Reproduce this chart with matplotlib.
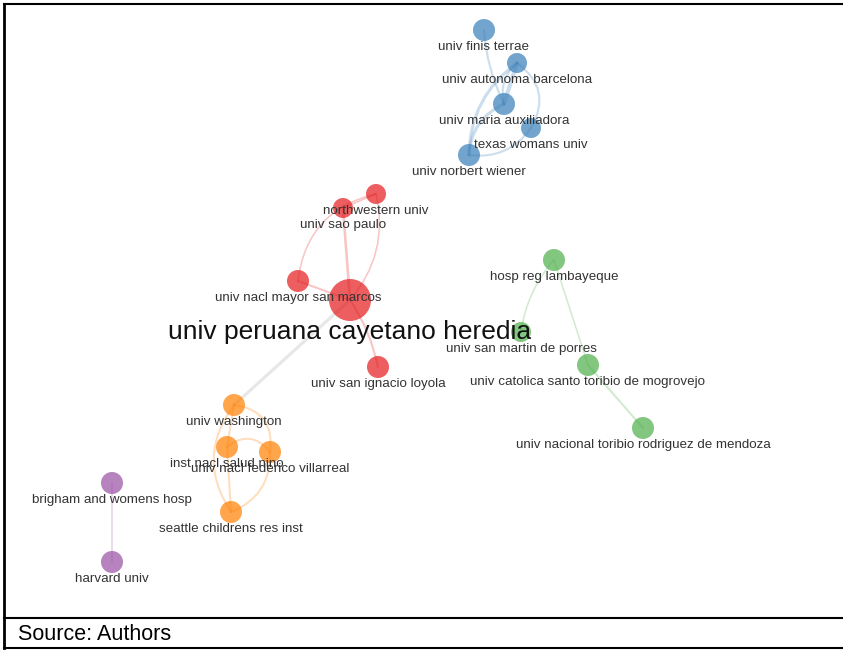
import matplotlib.pyplot as plt
from matplotlib.patches import Circle, FancyArrowPatch

# collaboration network: node name, cluster, position (px), radius
names = ["univ finis terrae", "univ autonoma barcelona", "univ maria auxiliadora",
         "texas womans univ", "univ norbert wiener",
         "northwestern univ", "univ sao paulo", "univ nacl mayor san marcos",
         "univ peruana cayetano heredia", "univ san ignacio loyola",
         "univ washington", "inst nacl salud nino", "univ nacl federico villarreal",
         "seattle childrens res inst",
         "hosp reg lambayeque", "univ san martin de porres",
         "univ catolica santo toribio de mogrovejo",
         "univ nacional toribio rodriguez de mendoza",
         "brigham and womens hosp", "harvard univ"]
cluster = [0, 0, 0, 0, 0, 1, 1, 1, 1, 1, 2, 2, 2, 2, 3, 3, 3, 3, 4, 4]
xs = [484, 517, 504, 531, 469, 376, 343, 298, 350, 378, 234, 227, 270, 231,
      554, 521, 588, 643, 112, 112]
ys = [30, 63, 104, 128, 155, 194, 208, 281, 300, 367, 405, 447, 452, 512,
      260, 332, 365, 428, 483, 562]
rad = [11, 10, 11, 10, 11, 10, 10, 11, 21, 11, 11, 11, 11, 11,
       11, 10, 11, 11, 11, 11]

# edges: source, target, width, curvature
edges = [
    (0, 2, 2, 0.1), (1, 2, 4, 0.0), (1, 2, 2, 0.3), (1, 4, 3, 0.25),
    (1, 3, 2, -0.45), (2, 4, 3, 0.3), (3, 4, 2, -0.3),
    (8, 6, 2.5, 0.0), (8, 5, 1.5, 0.25), (7, 5, 1.5, -0.35), (6, 5, 1.5, 0.0),
    (7, 8, 2, 0.0), (8, 9, 2, -0.1),
    (8, 10, 3, 0.0),
    (10, 11, 2, 0.0), (10, 12, 2, -0.5), (10, 13, 2, 0.35), (11, 12, 2, -0.5),
    (11, 13, 2, 0.0), (12, 13, 2, -0.35),
    (14, 15, 1.5, 0.15), (14, 16, 1.5, 0.0), (16, 17, 2, 0.0),
    (18, 19, 1.5, 0.0),
]

colors = ["#377EB8", "#E41A1C", "#FF7F00", "#4DAF4A", "#984EA3"]

plt.rcParams['font.family'] = ['Liberation Sans', 'DejaVu Sans']
fig = plt.figure(figsize=(8.43, 6.5), dpi=100)
ax = fig.add_axes([0, 0, 1, 1])
ax.set_xlim(0, 843)
ax.set_ylim(650, 0)
ax.axis("off")

for s, t, w, c in edges:
    same = cluster[s] == cluster[t]
    col = colors[cluster[s]] if same else "#d0d0d0"
    a = 0.25 if same else 0.5
    p = FancyArrowPatch((xs[s], ys[s]), (xs[t], ys[t]), arrowstyle="-",
                        connectionstyle=f"arc3,rad={c}", color=col, alpha=a,
                        lw=w * 0.75, shrinkA=0, shrinkB=0, zorder=1)
    ax.add_patch(p)

for i in range(len(names)):
    ax.add_patch(Circle((xs[i], ys[i]), rad[i], color=colors[cluster[i]],
                        alpha=0.7, lw=0, zorder=2))
    if rad[i] > 15:
        ax.text(xs[i], ys[i] + 32, names[i], ha="center", va="center",
                fontsize=19, color="#111111", zorder=3)
    else:
        ax.text(xs[i], ys[i] + 17, names[i], ha="center", va="center",
                fontsize=9.6, color="#333333", zorder=3)

# frame around figure and source line
ax.plot([4, 843], [4, 4], color="black", lw=1.5)
ax.plot([4, 4], [4, 648], color="black", lw=2)
ax.plot([4, 843], [618, 618], color="black", lw=1.5)
ax.plot([4, 843], [648, 648], color="black", lw=1.5)
ax.text(18, 635, "Source: Authors", ha="left", va="center", fontsize=15.5,
        color="black")

fig.savefig("out.png", dpi=100)
